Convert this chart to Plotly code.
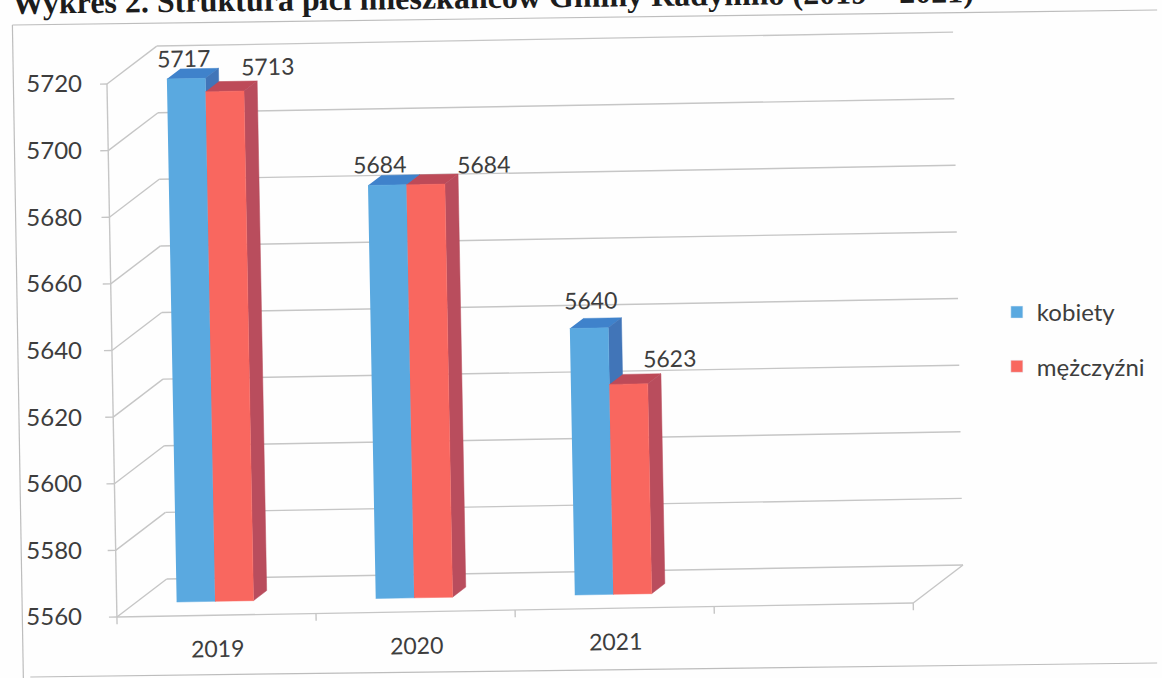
import plotly.graph_objects as go

years = ["2019", "2020", "2021"]
kobiety = [5717, 5684, 5640]
mezczyzni = [5713, 5684, 5623]
y_ticks = [5560, 5580, 5600, 5620, 5640, 5660, 5680, 5700, 5720]
TITLE = "Wykres 2. Struktura płci mieszkańców Gminy Radymno (2019 – 2021)"

W, H = 1162, 678
L, R, T, B = 100, 192, 25, 50
PX_U, PX_V = 200.0, 3.331
X0, Y0 = 117.0, 617.0
BASE = 5560

# oblique projection, expressed in data units
def proj(u, v, d=0.0):
    return (u + 0.25 * d - 0.0003125 * (v - BASE),
            v + 11.4 * d + 1.05 * u)

def pxp(x, y):
    return (x - L) / (W - L - R), (H - B - y) / (H - T - B)

x_range = [(L - X0) / PX_U, (W - R - X0) / PX_U]
y_range = [BASE - (H - B - Y0) / PX_V, BASE + (Y0 - T) / PX_V]

fig = go.Figure()

def lines(segments, color="#c6c6c6", width=1.4):
    xs, ys = [], []
    for a, b in segments:
        xa, ya = proj(*a)
        xb, yb = proj(*b)
        xs += [xa, xb, None]
        ys += [ya, yb, None]
    fig.add_trace(go.Scatter(x=xs, y=ys, mode="lines", line=dict(color=color, width=width),
                             showlegend=False, hoverinfo="skip", cliponaxis=False))

n_slots = 4
segs = []
for v in y_ticks:
    segs.append(((0, v, 1), (n_slots, v, 1)))
    segs.append(((0, v, 0), (0, v, 1)))
    segs.append(((-0.04, v, 0), (0, v, 0)))
segs.append(((0, y_ticks[0], 0), (0, y_ticks[-1], 0)))
segs.append(((0, BASE, 0), (n_slots, BASE, 0)))
segs.append(((n_slots, BASE, 0), (n_slots, BASE, 1)))
for i in range(n_slots + 1):
    segs.append(((i, BASE - 2.2, 0), (i, BASE, 0)))
lines(segs)

D0, DW = 0.376, 0.265
BW = 0.193
LEFT = 0.206

def faces(series, offset, front, top, side):
    fx, fy, tx, ty, sx, sy = [], [], [], [], [], []
    for i, v in enumerate(series):
        a = i + LEFT + offset
        b = a + BW
        for (xs, ys, pts) in (
            (fx, fy, [(a, BASE, D0), (b, BASE, D0), (b, v, D0), (a, v, D0)]),
            (tx, ty, [(a, v, D0), (b, v, D0), (b, v, D0 + DW), (a, v, D0 + DW)]),
            (sx, sy, [(b, BASE, D0), (b, BASE, D0 + DW), (b, v, D0 + DW), (b, v, D0)]),
        ):
            for p in pts:
                x, y = proj(*p)
                xs.append(x)
                ys.append(y)
            xs.append(None)
            ys.append(None)
    for xs, ys, c in ((tx, ty, top), (sx, sy, side), (fx, fy, front)):
        fig.add_trace(go.Scatter(x=xs, y=ys, mode="lines", fill="toself", fillcolor=c,
                                 line=dict(color=c, width=0.5), showlegend=False,
                                 hoverinfo="skip", cliponaxis=False))

faces(kobiety, 0, "#5aa9e0", "#3f82cb", "#4175b8")
faces(mezczyzni, BW, "#f9675f", "#bd4a58", "#b94d5d")

# legend entries
for name, c, grp in (("kobiety", "#5aa9e0", "a"), ("mężczyźni", "#f9675f", "b")):
    fig.add_trace(go.Bar(x=[None], y=[None], name=name, marker_color=c, legendgroup=grp))

TXT = "#3d3d3d"
FONT = "Lato"
label_dx = [[-3, 43], [-8, 58], [1, 41]]
label_dy = [[21, 25], [21, 20], [28, 26]]
for i in range(len(years)):
    for j, series in enumerate((kobiety, mezczyzni)):
        v = series[i]
        u = i + LEFT + BW * j + BW / 2
        x, y = proj(u, v, D0)
        fig.add_annotation(x=x, y=y, text=str(v), showarrow=False, xanchor="center", yanchor="middle",
                           xshift=label_dx[i][j], yshift=label_dy[i][j], textangle=-1,
                           font=dict(family=FONT, size=23, color=TXT))
    x, y = proj(i + 0.5, BASE, 0)
    fig.add_annotation(x=x, y=y, text=years[i], showarrow=False, xanchor="center", yanchor="middle",
                       xshift=1, yshift=-33, textangle=-1, font=dict(family=FONT, size=23, color=TXT))

tx, ty = pxp(495, -3)
fig.add_annotation(xref="paper", yref="paper", x=tx, y=ty, text="<b>" + TITLE + "</b>", showarrow=False,
                   xanchor="center", yanchor="middle", textangle=-0.7,
                   font=dict(family="Liberation Serif", size=32, color="#1c1c1c"))

frame = [((12, 25), (1162, 10)), ((12, 25), (23, 678)), ((30, 677), (1162, 663))]
shapes = []
for a, b in frame:
    xa, ya = pxp(*a)
    xb, yb = pxp(*b)
    shapes.append(dict(type="line", xref="paper", yref="paper", x0=xa, y0=ya, x1=xb, y1=yb,
                       line=dict(color="#bdbdbd", width=1.2), layer="below"))

lx, ly = pxp(1001, 290)
fig.update_layout(
    width=W, height=H, autosize=False,
    margin=dict(l=L, r=R, t=T, b=B),
    paper_bgcolor="#fefefe", plot_bgcolor="rgba(0,0,0,0)",
    shapes=shapes,
    showlegend=True,
    legend=dict(x=lx, y=ly, xanchor="left", yanchor="top", tracegroupgap=20,
                itemwidth=30, bgcolor="rgba(0,0,0,0)",
                font=dict(family=FONT, size=24, color=TXT)),
    xaxis=dict(range=x_range, showgrid=False, zeroline=False, showticklabels=False, ticks="", fixedrange=True),
    yaxis=dict(range=y_range, tickvals=y_ticks, showgrid=False, zeroline=False, ticks="",
               ticklabelstandoff=17, tickfont=dict(family=FONT, size=24, color=TXT), fixedrange=True),
)
fig.write_html("out.html", config=dict(displayModeBar=False),
               post_script="document.body.style.margin='0';window.dispatchEvent(new Event('resize'));")
